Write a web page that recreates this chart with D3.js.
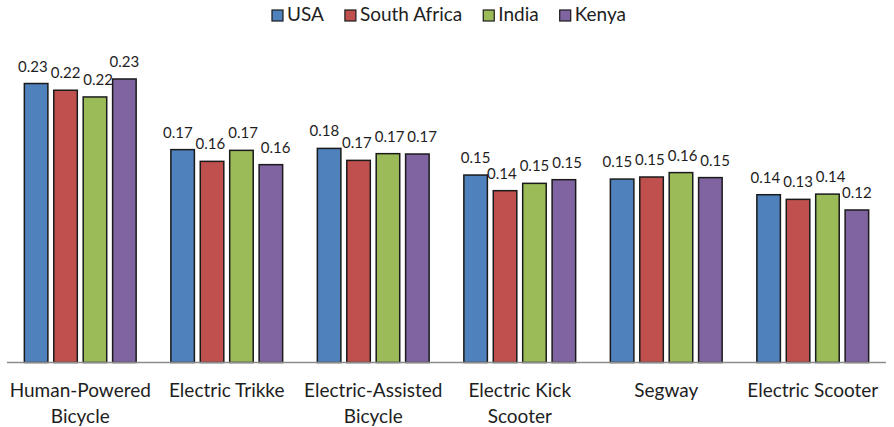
<!DOCTYPE html>
<html>
<head>
<meta charset="utf-8">
<script src="https://cdn.jsdelivr.net/npm/d3@7"></script>
<style>
  html, body { margin: 0; padding: 0; background: #fff; }
  svg { display: block; font-family: Lato, "Open Sans", sans-serif; }
</style>
</head>
<body>
<svg id="chart" width="894" height="427"></svg>
<script>
// Vehicle types (each entry is the category label, split into its display lines)
const categories = [
  ["Human-Powered", "Bicycle"],
  ["Electric Trikke"],
  ["Electric-Assisted", "Bicycle"],
  ["Electric Kick", "Scooter"],
  ["Segway"],
  ["Electric Scooter"]
];

const seriesNames = ["USA", "South Africa", "India", "Kenya"];
const seriesColors = ["#4F81BD", "#C0504D", "#9BBB59", "#8064A2"];

// Scores per vehicle type, one array per country
const usa         = [0.2283, 0.1742, 0.1752, 0.1534, 0.1501, 0.1373];
const southAfrica = [0.2228, 0.1646, 0.1654, 0.1406, 0.1518, 0.1335];
const india       = [0.2173, 0.1736, 0.1709, 0.1466, 0.1554, 0.1378];
const kenya       = [0.2320, 0.1619, 0.1706, 0.1496, 0.1513, 0.1248];

const seriesValues = [usa, southAfrica, india, kenya];
const yDomain = [0, 0.25];

const svg = d3.select("#chart");
const textColor = "#1e1e1e";

const catKeys = categories.map(c => c.join(" "));
const x0 = d3.scaleBand().domain(catKeys).range([7, 886]).paddingInner(0).paddingOuter(0);
const x1 = d3.scaleBand().domain(seriesNames).range([0, x0.bandwidth()])
  .paddingInner(0.2).paddingOuter(0.59);
const y = d3.scaleLinear().domain(yDomain).range([362.5, 57]);
const color = d3.scaleOrdinal().domain(seriesNames).range(seriesColors);
const fmt = d3.format(".2f");

const rows = catKeys.map((k, i) => ({
  key: k,
  values: seriesNames.map((s, j) => ({ series: s, value: seriesValues[j][i] }))
}));

const groups = svg.append("g").selectAll("g")
  .data(rows).join("g")
  .attr("transform", d => `translate(${x0(d.key)},0)`);

groups.selectAll("rect")
  .data(d => d.values).join("rect")
  .attr("x", d => x1(d.series))
  .attr("y", d => y(d.value))
  .attr("width", x1.bandwidth())
  .attr("height", d => y(0) - y(d.value))
  .attr("fill", d => color(d.series))
  .attr("stroke", "#1a1a1a")
  .attr("stroke-width", 1.5);

const valueFont = 15;
groups.selectAll("text.val")
  .data(d => d.values).join("text")
  .attr("class", "val")
  .attr("x", d => x1(d.series) + x1.bandwidth() / 2)
  .attr("y", d => y(d.value) - 12)
  .attr("text-anchor", "middle")
  .attr("font-size", valueFont)
  .attr("fill", textColor)
  .text(d => fmt(d.value));

// Spread value labels that collide with their neighbours in the same group
groups.each(function () {
  const labels = d3.select(this).selectAll("text.val").nodes().map(n => ({
    node: n,
    cx: +n.getAttribute("x"),
    y: +n.getAttribute("y"),
    w: n.getComputedTextLength()
  }));
  const gap = 3;
  for (let iter = 0; iter < 40; iter++) {
    let moved = false;
    for (let i = 1; i < labels.length; i++) {
      const a = labels[i - 1], b = labels[i];
      if (Math.abs(a.y - b.y) >= valueFont) continue;
      const overlap = (a.cx + a.w / 2 + gap) - (b.cx - b.w / 2);
      if (overlap > 0.1) {
        a.cx -= overlap / 2;
        b.cx += overlap / 2;
        moved = true;
      }
    }
    if (!moved) break;
  }
  labels.forEach(l => l.node.setAttribute("x", l.cx));
});

// Baseline axis
svg.append("line")
  .attr("x1", x0.range()[0]).attr("x2", x0.range()[1])
  .attr("y1", y(0)).attr("y2", y(0))
  .attr("stroke", "#8c8c8c").attr("stroke-width", 1.5);

// Category labels
const catLabels = svg.append("g").selectAll("text")
  .data(categories).join("text")
  .attr("text-anchor", "middle")
  .attr("font-size", 19)
  .attr("fill", textColor)
  .attr("transform", (d, i) => `translate(${x0(catKeys[i]) + x0.bandwidth() / 2},397)`);
catLabels.selectAll("tspan")
  .data(d => d).join("tspan")
  .attr("x", 0)
  .attr("dy", (d, i) => i === 0 ? 0 : 26)
  .text(d => d);

// Legend, centred above the plot
const legend = svg.append("g");
const items = legend.selectAll("g").data(seriesNames).join("g");
items.append("rect")
  .attr("width", 11).attr("height", 11)
  .attr("y", 10)
  .attr("fill", d => color(d))
  .attr("stroke", "#1a1a1a").attr("stroke-width", 1.2);
items.append("text")
  .attr("x", 15).attr("y", 21)
  .attr("font-size", 19)
  .attr("fill", textColor)
  .text(d => d);
let cx = 0;
items.each(function () {
  const g = d3.select(this);
  g.attr("transform", `translate(${cx},0)`);
  const w = 15 + g.select("text").node().getComputedTextLength();
  cx += w + 21;
});
const legendWidth = cx - 21;
legend.attr("transform", `translate(${449 - legendWidth / 2},0)`);
</script>
</body>
</html>
